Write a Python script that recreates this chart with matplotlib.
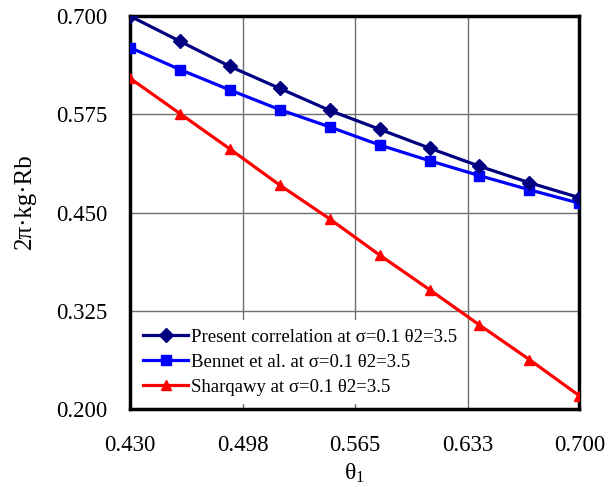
import matplotlib
matplotlib.use("Agg")
from matplotlib import pyplot as plt

theta1 = [0.430, 0.460, 0.490, 0.520, 0.550, 0.580, 0.610, 0.640, 0.670, 0.700]
present = [0.700, 0.668, 0.636, 0.608, 0.580, 0.556, 0.532, 0.509, 0.488, 0.469]
bennet = [0.660, 0.632, 0.606, 0.581, 0.559, 0.536, 0.516, 0.497, 0.479, 0.462]
sharqawy = [0.621, 0.576, 0.531, 0.485, 0.442, 0.396, 0.352, 0.307, 0.263, 0.217]
xticks = [0.430, 0.498, 0.565, 0.633, 0.700]
yticks = [0.200, 0.325, 0.450, 0.575, 0.700]
labels = ["Present correlation at σ=0.1 θ2=3.5",
          "Bennet et al. at σ=0.1 θ2=3.5",
          "Sharqawy at σ=0.1 θ2=3.5"]

plt.rcParams['font.family'] = ['Liberation Serif', 'DejaVu Serif']
plt.rcParams['mathtext.fontset'] = 'custom'
plt.rcParams['mathtext.rm'] = 'Liberation Serif'
plt.rcParams['mathtext.it'] = 'Liberation Serif:italic'

fig = plt.figure(figsize=(6.13, 4.87), dpi=100)
ax = fig.add_axes([0.212, 0.160, 0.733, 0.807])

ax.plot(theta1, present, color='#000080', lw=2.3, marker='D', ms=7, label=labels[0], zorder=5)
ax.plot(theta1, bennet, color='#0000FF', lw=2.3, marker='s', ms=6.5, label=labels[1], zorder=4)
ax.plot(theta1, sharqawy, color='#FF0000', lw=2.3, marker='^', ms=7.5, label=labels[2], zorder=3)

ax.set_xlim(0.430, 0.700)
ax.set_ylim(0.200, 0.700)
ax.set_xticks(xticks)
ax.set_xticklabels(["%.3f" % v for v in xticks])
ax.set_yticks(yticks)
ax.set_yticklabels(["%.3f" % v for v in yticks])
ax.tick_params(length=0, labelsize=16.5)
ax.tick_params(axis='x', pad=19)
ax.tick_params(axis='y', pad=16)
ax.grid(True, color='#707070', lw=1)
ax.set_axisbelow(True)
for s in ax.spines.values():
    s.set_linewidth(2.5)
    s.set_color('black')

ax.set_xlabel("θ$_1$", fontsize=17, labelpad=4)
ax.set_ylabel("2π·kg·Rb", fontsize=18)
ax.yaxis.set_label_coords(-0.21, 0.53)

leg = ax.legend(loc='lower left', fontsize=13.5, frameon=True, fancybox=False,
                edgecolor='none', facecolor='white', framealpha=1,
                handlelength=2.4, handletextpad=0.15, labelspacing=0.42,
                borderaxespad=0.25, borderpad=0.45)

fig.savefig("out.png", dpi=100)
